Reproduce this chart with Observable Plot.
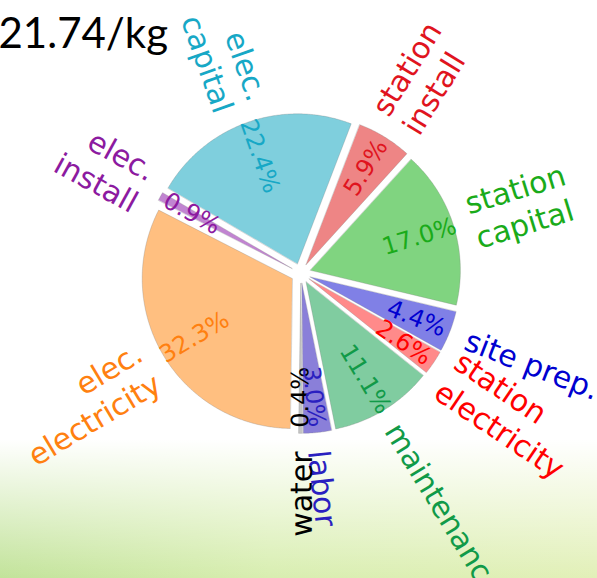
<!DOCTYPE html>
<html><head><meta charset="utf-8">
<script src="https://cdn.jsdelivr.net/npm/d3@7"></script>
<script src="https://cdn.jsdelivr.net/npm/@observablehq/plot@0.6"></script>
<style>
html,body{margin:0;padding:0;}
body{width:597px;height:578px;overflow:hidden;
background:
 linear-gradient(to bottom, rgba(255,255,255,1) 0%, rgba(255,255,255,1) 76%, rgba(255,255,255,0) 100%),
 linear-gradient(to right, #c2e39a 0%, #d8eeb0 45%, #e2f0b8 100%);}
#chart{position:relative;}
</style></head><body><div id="chart"></div>
<script>
const labels = ["elec.\ncapital","elec.\ninstall","elec.\nelectricity","water","labor","maintenance","station\nelectricity","site prep.","station\ncapital","station\ninstall"];
const percents = [22.4, 0.9, 32.3, 0.4, 3.0, 11.1, 2.6, 4.4, 17.0, 5.9];
const wedgeColors = ["#7fcfdd","#c184d1","#ffbf80","#c4c4c4","#8a7fd9","#80cca0","#ff8a8a","#8080e6","#80d480","#ee8585"];
const textColors = ["#17a8c6","#8c1aa0","#ff8010","#000000","#2a1fc0","#119a48","#ff0000","#0000d0","#1aab1a","#e0141e"];
const title = "21.74/kg";
const startAngle = 69; // degrees; slices run counterclockwise

const rad = Math.PI / 180;
const explode = 0.067, labelDist = 1.12, pctDist = 0.76;
const total = d3.sum(percents);
let cum = 0;
const slices = percents.map((v, i) => {
  const a0 = startAngle + 360 * cum / total; cum += v;
  const a1 = startAngle + 360 * cum / total;
  return {i, v, a0, a1, mid: (a0 + a1) / 2};
});
const wedgePts = slices.flatMap(s => {
  const ox = explode * Math.cos(s.mid * rad), oy = explode * Math.sin(s.mid * rad);
  const n = Math.max(2, Math.ceil((s.a1 - s.a0) / 0.5));
  const pts = [{k: s.i, x: ox, y: oy, fill: wedgeColors[s.i]}];
  for (let j = 0; j <= n; j++) {
    const a = (s.a0 + (s.a1 - s.a0) * j / n) * rad;
    pts.push({k: s.i, x: ox + Math.cos(a), y: oy + Math.sin(a), fill: wedgeColors[s.i]});
  }
  return pts;
});
const textRows = slices.map(s => {
  const c = Math.cos(s.mid * rad), sn = Math.sin(s.mid * rad);
  const right = c > 0;
  let rot = s.mid + (right ? 0 : 180);
  return {
    right,
    lx: (explode + labelDist) * c, ly: (explode + labelDist) * sn,
    px: (explode + pctDist) * c, py: (explode + pctDist) * sn,
    rotate: -rot,
    label: labels[s.i], pct: s.v.toFixed(1) + "%",
    color: textColors[s.i]
  };
});
const font = "DejaVu Sans";
const chart = Plot.plot({
  width: 597, height: 578, margin: 0,
  x: {domain: [-300.3 / 150, 296.7 / 150], axis: null},
  y: {domain: [-305.2 / 150, 272.8 / 150], axis: null},
  color: {type: "identity"},
  style: {background: "transparent"},
  marks: [
    Plot.line(wedgePts, {x: "x", y: "y", z: "k", fill: "fill", stroke: "#7a7a7a", strokeOpacity: 0.35, strokeWidth: 0.8, curve: "linear-closed"}),
    Plot.text(textRows, {x: "px", y: "py", text: "pct", fill: "color", rotate: "rotate", fontSize: 24, fontFamily: font, textAnchor: "middle", lineAnchor: "middle"}),
    Plot.text(textRows.filter(d => d.right), {x: "lx", y: "ly", text: "label", fill: "color", rotate: "rotate", fontSize: 30, fontFamily: font, textAnchor: "start", lineAnchor: "middle", lineHeight: 1.2}),
    Plot.text(textRows.filter(d => !d.right), {x: "lx", y: "ly", text: "label", fill: "color", rotate: "rotate", fontSize: 30, fontFamily: font, textAnchor: "end", lineAnchor: "middle", lineHeight: 1.2}),
    Plot.text([title], {frameAnchor: "top-left", text: d => d, fontSize: 42, fontFamily: "Lato", fill: "black", textAnchor: "start", lineAnchor: "top", dx: -2, dy: 18})
  ]
});
document.getElementById("chart").appendChild(chart);
</script></body></html>
